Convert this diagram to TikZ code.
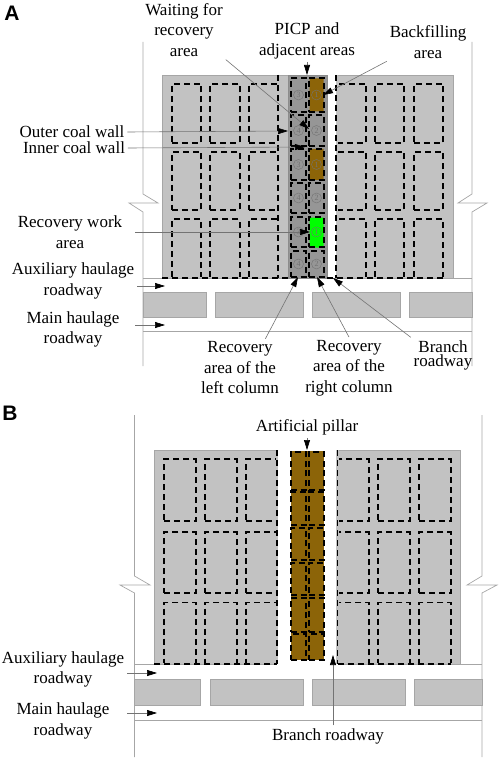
\documentclass[tikz,border=0pt]{standalone}
\usepackage{fontspec}
\setmainfont{Liberation Serif}
\setsansfont{Liberation Sans}
\usetikzlibrary{arrows.meta,shapes.misc}
\definecolor{coalgray}{HTML}{C2C2C2}
\definecolor{darkcoal}{HTML}{969696}
\definecolor{wallgray}{HTML}{A6A6A6}
\definecolor{backfill}{HTML}{8C6408}
\begin{document}
\begin{tikzpicture}[x=1pt,y=-1pt,inner sep=0pt,outer sep=0pt,wall/.style={draw=wallgray, line width=0.7pt},coal/.style={draw=wallgray, fill=coalgray, line width=0.7pt, minimum width=#1},room/.style={draw=black, line width=1.9pt, dash pattern=on 6pt off 4pt, minimum width=29.5pt},cell/.style={draw=black, line width=1.7pt, dash pattern=on 6pt off 3.6pt, minimum width=15pt},dashline/.style={draw=black, line width=1.9pt, dash pattern=on 6pt off 4pt},wipe/.style={draw=coalgray, line width=2.6pt},chamfer/.style={chamfered rectangle, chamfered rectangle xsep=3pt, chamfered rectangle ysep=3.5pt, minimum width=14pt},circnum/.style={circle, draw=black!55, text=black!55, line width=0.4pt, minimum size=10pt, font=\fontsize{8}{8}\selectfont},lbl/.style={align=center, outer sep=3pt, font=\fontsize{17}{20.5}\selectfont},lead/.style={draw=black!55, line width=0.6pt, -{Triangle[length=10pt,width=6pt,color=black]}},panel/.style={font=\fontsize{21}{21}\selectfont\sffamily\bfseries}]
\useasboundingbox (0,0) rectangle (498,759);
\node[panel] (panelA) at (12,13) {A};
\node[panel] (panelB) at (10,413) {B};

\draw[wall] (143,42) -- (143,194) -- (158,203) -- (129,203) -- (143,212) -- (143,366);
\draw[wall] (472,42) -- (472,194) -- (458,203) -- (487,203) -- (472,212) -- (472,366);
\draw[wall] (143,278) -- (472,278);
\draw[wall] (143,331) -- (472,331);
\node[coal=63pt, minimum height=25pt] (roadAa) at (174.5,304.5) {};\node[coal=88pt, minimum height=25pt] (roadAb) at (259,304.5) {};\node[coal=88pt, minimum height=25pt] (roadAc) at (356,304.5) {};\node[coal=63pt, minimum height=25pt] (roadAd) at (440.5,304.5) {};
\node[coal=291pt, minimum height=203pt] (blockA) at (307.5,176.5) {};
\fill[white] (327,75.4) rectangle (336,279);
\node[coal=39pt, minimum height=203pt, fill=darkcoal, draw=black!45] (columnA) at (307.5,176.5) {};
\foreach \cx [count=\i] in {186.5,225,263.5,351.5,389.5,428.5}{\foreach \cy/\rowh [count=\j] in {113.5/59,181/58,248.5/59}{\node[room, minimum height=\rowh] (roomA\i-\j) at (\cx,\cy) {};}}
\draw[wipe] (278,75) -- (278,278);
\draw[wipe] (162,278) -- (288,278);
\draw[wipe] (337,75) -- (337,278);
\draw[wipe] (337,278) -- (453,278);
\draw[wall] (162,278.8) -- (288,278.8);
\draw[wall] (327,278.8) -- (453,278.8);
\draw[dashline] (278,75) -- (278,278);
\draw[dashline] (336,75) -- (336,278);
\draw[dashline] (162,278) -- (288,278);
\draw[dashline] (327,278) -- (443,278);
\node[chamfer, fill=backfill, minimum height=33pt] (backA) at (316.5,95) {};
\node[chamfer, fill=backfill, minimum height=31pt] (backB) at (316.5,164.5) {};
\node[chamfer, fill=green, minimum height=30pt] (workface) at (316.5,232.5) {};
\foreach \ycell/\rowh/\nleft/\nright [count=\r] in {95/34/3/1,130.5/31/4/2,164.5/31/3/1,198/30/4/2,232/30/3/1,264/26/4/2}{\node[cell, minimum height=\rowh] (cellL\r) at (298.5,\ycell) {};\node[cell, minimum height=\rowh] (cellR\r) at (316.5,\ycell) {};\node[circnum] (numL\r) at (cellL\r) {\nleft};\node[circnum] (numR\r) at (cellR\r) {\nright};}

\node[lbl] (waiting) at (184,30) {Waiting for\\recovery\\area};
\node[lbl] (picp) at (307,41) {PICP and\\adjacent areas};
\node[lbl] (backfilling) at (428,42) {Backfilling\\area};
\node[lbl] (outer) at (72,132) {Outer coal wall};
\node[lbl] (inner) at (74,148) {Inner coal wall};
\node[lbl] (work) at (70,232) {Recovery work\\area};
\node[lbl] (auxA) at (73,281) {Auxiliary haulage\\roadway};
\node[lbl] (mainA) at (73,329.5) {Main haulage\\roadway};
\node[lbl] (leftcol) at (240,368) {Recovery\\area of the\\left column};
\node[lbl] (rightcol) at (349,368) {Recovery\\area of the\\right column};
\node[lbl, font=\fontsize{17}{14}\selectfont] (branchA) at (443,355) {Branch\\roadway};
\coordinate (tipwaiting) at (309,129);
\coordinate (tippicp) at (307,75);
\coordinate (tipback) at (323,95);
\coordinate (tipouter) at (288,131);
\coordinate (tipinner) at (305,147);
\coordinate (tipwork) at (310,232);
\coordinate (tipauxA) at (165,286);
\coordinate (tipmainA) at (165,325);
\coordinate (tipleft) at (298,277);
\coordinate (tipright) at (317,277);
\coordinate (tipbranchA) at (333,278);
\draw[lead] (waiting.south east) -- (tipwaiting);
\draw[lead] (picp.south) -- (tippicp);
\draw[lead] (backfilling.south west) -- (tipback);
\draw[lead] (outer.east) -- (tipouter);
\draw[lead] (inner.east) -- (tipinner);
\draw[lead] ([shift={(10,0)}]work.east) -- (tipwork);
\draw[lead] ([shift={(0,5)}]auxA.east) -- (tipauxA);
\draw[lead] ([shift={(13,-4.5)}]mainA.east) -- (tipmainA);
\draw[lead] (leftcol.49) -- (tipleft);
\draw[lead] (rightcol.north) -- (tipright);
\draw[lead] (branchA.north west) -- (tipbranchA);

\draw[wall] (134.5,415) -- (134.5,576) -- (150,585) -- (120,585) -- (134.5,593) -- (134.5,757);
\draw[wall] (482,415) -- (482,576) -- (467,585) -- (497,585) -- (482,593) -- (482,757);
\draw[wall] (134.5,664) -- (482,664);
\draw[wall] (134.5,720) -- (482,720);
\node[coal=65.5pt, minimum height=26pt] (roadBa) at (167.2,692) {};\node[coal=93pt, minimum height=26pt] (roadBb) at (256.5,692) {};\node[coal=93pt, minimum height=26pt] (roadBc) at (358.5,692) {};\node[coal=68pt, minimum height=26pt] (roadBd) at (448,692) {};
\node[coal=306pt, minimum height=214pt] (blockB) at (307,557) {};
\fill[white] (277,450.4) rectangle (337.5,665);
\foreach \cx [count=\i] in {180,221,261.5,353,394,435}{\foreach \cy/\rowh [count=\j] in {490/62,562.5/61,633/61}{\node[room, minimum width=31.5pt, minimum height=\rowh] (roomB\i-\j) at (\cx,\cy) {};}}
\draw[wipe] (277,450) -- (277,664);
\draw[wipe] (154,664) -- (277,664);
\draw[wipe] (337.5,450) -- (337.5,664);
\draw[wipe] (337.5,664) -- (460,664);
\draw[wall] (154,664.8) -- (277,664.8);
\draw[wall] (337.5,664.8) -- (460,664.8);
\draw[dashline] (277,450) -- (277,664);
\draw[dashline] (337.5,450) -- (337.5,664);
\draw[dashline] (154,664) -- (277,664);
\draw[dashline] (337.5,664) -- (451,664);
\node[minimum width=33pt, minimum height=209pt, fill=backfill] (pillarbody) at (307.5,555.5) {};
\foreach \ycell/\rowh [count=\r] in {471/38,508.5/33,544/32,579/32,615/34,647/26}{\node[cell, minimum height=\rowh] (cellBL\r) at (298.5,\ycell) {};\node[cell, minimum height=\rowh] (cellBR\r) at (316.5,\ycell) {};}

\node[lbl] (artificial) at (307,427) {Artificial pillar};
\node[lbl] (auxB) at (63,669.5) {Auxiliary haulage\\roadway};
\node[lbl] (mainB) at (63,721) {Main haulage\\roadway};
\node[lbl] (branchB) at (328,736) {Branch roadway};
\coordinate (tippillar) at (307,450);
\coordinate (tipauxB) at (157,673);
\coordinate (tipmainB) at (157,713);
\coordinate (tipbranchB) at (333,655);
\draw[lead] (artificial.south) -- (tippillar);
\draw[lead] ([shift={(0,3.5)}]auxB.east) -- (tipauxB);
\draw[lead] ([shift={(15,-8)}]mainB.east) -- (tipmainB);
\draw[lead] (branchB.north -| tipbranchB) -- (tipbranchB);
\end{tikzpicture}
\end{document}
